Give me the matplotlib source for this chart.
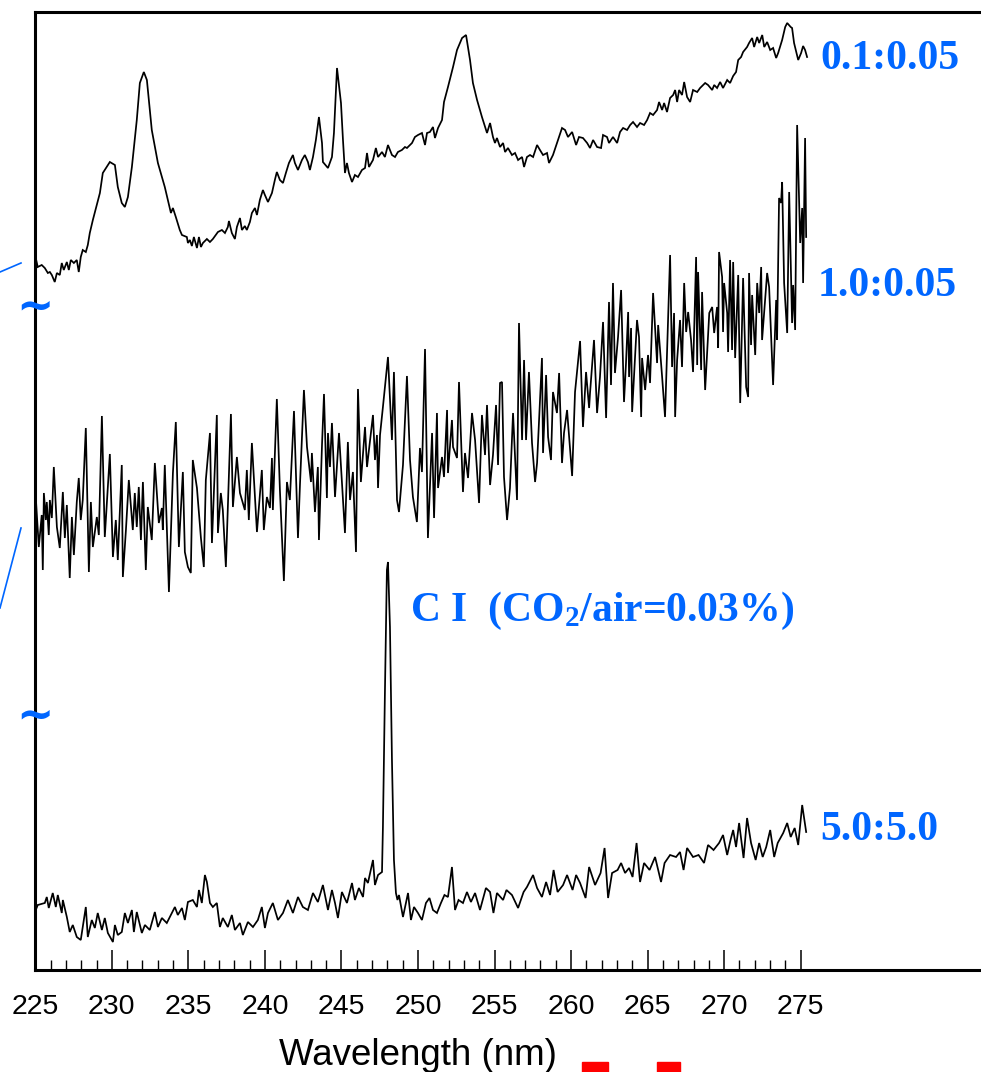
import matplotlib
matplotlib.use('Agg')
import matplotlib.pyplot as plt
from matplotlib.ticker import FixedLocator, NullFormatter
from matplotlib.transforms import blended_transform_factory
from matplotlib.lines import Line2D
from matplotlib.patches import Rectangle

plt.rcParams['font.family'] = ['Liberation Sans', 'DejaVu Sans']
plt.rcParams['mathtext.fontset'] = 'custom'
plt.rcParams['mathtext.rm'] = 'Liberation Serif:bold'
plt.rcParams['mathtext.it'] = 'Liberation Serif:bold:italic'
plt.rcParams['mathtext.bf'] = 'Liberation Serif:bold'

# ---------------- data (wavelength in nm, intensity in a.u., traces stacked) -------------
# top trace (0.1:0.05), read in segments
top_wl_a = [225.03, 225.16, 225.42, 225.62, 225.82, 225.95, 226.08, 226.27, 226.41, 226.60,
            226.73, 226.86, 227.06, 227.19, 227.32, 227.52, 227.71, 227.84, 227.97, 228.10,
            228.30, 228.43, 228.56]
top_int_a = [710, 701, 703, 700, 695, 696, 693, 686, 695, 693,
             705, 698, 706, 698, 708, 705, 708, 696, 711, 718,
             716, 723, 735]
top_wl_b = [228.76, 229.22, 229.41, 229.87, 230.20, 230.39, 230.65, 230.85, 231.05, 231.31,
            231.63, 231.83, 232.09, 232.29, 232.61, 233.01, 233.46]
top_int_b = [748, 775, 795, 806, 803, 781, 765, 761, 771, 801,
             848, 885, 896, 888, 838, 805, 781]
top_wl_c = [233.86, 233.99, 234.18, 234.44, 234.58, 234.90, 234.97, 235.10, 235.23, 235.36,
            235.56, 235.69, 235.82, 235.95, 236.21, 236.41, 236.60, 236.93, 237.19, 237.39,
            237.58, 237.65, 237.84, 238.04, 238.17, 238.37, 238.50, 238.69, 238.82, 239.02,
            239.15, 239.35, 239.48, 239.67, 239.87, 240.00, 240.20, 240.46, 240.65, 240.78,
            240.98, 241.18, 241.37, 241.57, 241.83, 241.96, 242.16, 242.42, 242.61, 242.81,
            242.94, 243.14, 243.33, 243.53, 243.73, 243.79, 244.12, 244.38, 244.51, 244.71,
            244.97, 245.10, 245.23, 245.36, 245.49, 245.69, 245.88, 246.08, 246.34, 246.54,
            246.67, 246.80, 247.06, 247.25, 247.39, 247.65, 247.84, 248.04, 248.30, 248.50,
            248.69, 248.95, 249.15, 249.28, 249.61, 249.80, 250.00, 250.26, 250.46, 250.59,
            250.78, 250.98, 251.11, 251.31, 251.57, 251.70]
top_int_c = [755, 760, 751, 738, 733, 731, 725, 728, 722, 731,
             720, 731, 721, 725, 729, 726, 729, 736, 738, 735,
             741, 747, 735, 729, 741, 750, 738, 742, 738, 746,
             755, 760, 753, 768, 778, 773, 766, 775, 788, 796,
             788, 785, 795, 805, 813, 805, 798, 808, 813, 806,
             798, 811, 828, 851, 825, 806, 800, 811, 835, 900,
             865, 828, 795, 805, 795, 786, 793, 791, 798, 800,
             815, 801, 808, 820, 811, 816, 811, 823, 813, 811,
             816, 818, 821, 820, 825, 831, 833, 835, 823, 835,
             836, 841, 830, 840, 848, 866]
top_wl_d = [251.96, 252.29, 252.55, 252.88, 253.14, 253.40, 253.59, 253.86, 254.18, 254.51]
top_int_d = [881, 901, 918, 930, 933, 908, 885, 868, 851, 835]
top_wl_e = [254.71, 254.90, 255.03, 255.16, 255.36, 255.56, 255.69, 255.88, 256.14, 256.34,
            256.54, 256.80, 256.93, 257.12, 257.32, 257.52, 257.78, 257.97, 258.17, 258.43,
            258.56, 258.82, 259.15, 259.41, 259.61, 259.80, 260.07, 260.33, 260.52, 260.78,
            261.05, 261.24, 261.44, 261.70, 261.96, 262.09, 262.35, 262.48, 262.74, 263.01,
            263.20, 263.40, 263.66, 263.86, 264.05, 264.31, 264.51, 264.77, 264.97, 265.16,
            265.36, 265.62, 265.75, 265.95, 266.08, 266.27, 266.47, 266.67, 266.80, 266.93,
            267.06, 267.25, 267.39, 267.58, 267.78, 267.97, 268.24, 268.43, 268.76, 268.95,
            269.22, 269.35, 269.54, 269.74, 269.93, 270.20, 270.39, 270.59, 270.78, 270.92,
            271.11, 271.24, 271.50, 271.63, 271.83, 271.96, 272.16, 272.29, 272.49, 272.62,
            272.81, 273.01, 273.20, 273.40, 273.53, 273.79, 273.99, 274.12, 274.35, 274.44,
            274.57, 274.71, 274.84, 275.03, 275.16, 275.29, 275.42]
top_int_e = [845, 831, 825, 830, 821, 825, 816, 820, 813, 815,
             808, 811, 801, 811, 813, 811, 823, 818, 813, 815,
             805, 813, 828, 840, 838, 831, 836, 823, 831, 830,
             825, 820, 828, 821, 820, 833, 831, 825, 831, 825,
             836, 840, 838, 843, 846, 841, 845, 843, 848, 855,
             853, 858, 866, 858, 865, 856, 870, 873, 878, 866,
             878, 873, 886, 871, 866, 878, 876, 880, 885, 883,
             878, 883, 880, 886, 880, 888, 885, 892, 896, 908,
             911, 916, 921, 925, 930, 921, 931, 925, 933, 921,
             926, 918, 920, 910, 915, 928, 941, 945, 941, 940,
             925, 916, 908, 915, 922, 918, 911]
top_wl = top_wl_a + top_wl_b + top_wl_c + top_wl_d + top_wl_e
top_int = top_int_a + top_int_b + top_int_c + top_int_d + top_int_e

# middle trace (1.0:0.05)
mid_wl = [225.03, 225.23, 225.42, 225.49, 225.56, 225.69, 225.75, 225.88, 225.95, 226.08,
          226.21, 226.41, 226.60, 226.80, 226.93, 227.06, 227.25, 227.39, 227.52, 227.71,
          227.84, 227.97, 228.10, 228.30, 228.50, 228.63, 228.76, 229.02, 229.15, 229.35,
          229.54, 229.87, 230.07, 230.26, 230.39, 230.65, 230.72, 230.92, 231.11, 231.37,
          231.50, 231.63, 231.76, 231.90, 232.03, 232.22, 232.35, 232.61, 232.81, 233.07,
          233.27, 233.33, 233.46, 233.73, 233.99, 234.18, 234.38, 234.64, 234.77, 234.97,
          235.16, 235.29, 235.56, 235.82, 236.01, 236.14, 236.41, 236.54, 236.86, 236.93,
          237.12, 237.25, 237.45, 237.78, 237.91, 238.17, 238.37, 238.69, 238.82, 238.95,
          239.15, 239.48, 239.80, 239.93, 240.13, 240.33, 240.46, 240.52, 240.78, 240.98,
          241.24, 241.44, 241.63, 241.90, 242.16, 242.29, 242.55, 242.75, 243.01, 243.07,
          243.27, 243.46, 243.53, 243.73, 243.86, 244.05, 244.12, 244.25, 244.38, 244.58,
          244.84, 245.23, 245.42, 245.56, 245.75, 245.95, 246.08, 246.27, 246.54, 246.67,
          247.06, 247.19, 247.32, 247.39, 247.52, 247.71, 248.04, 248.30, 248.43, 248.63,
          248.76, 249.02, 249.28, 249.48, 249.67, 249.93, 250.13, 250.26, 250.46, 250.65,
          250.92, 251.05, 251.24, 251.31, 251.57, 251.70, 251.90, 251.96, 252.22, 252.29,
          252.55, 252.68, 252.94, 253.07, 253.27, 253.53, 253.73, 253.99, 254.18, 254.38,
          254.51, 254.71, 254.90, 255.10, 255.23, 255.36, 255.49, 255.62, 255.82, 256.01,
          256.21, 256.47, 256.60, 256.80, 256.93, 257.06, 257.25, 257.45, 257.65, 257.78,
          258.10, 258.17, 258.37, 258.50, 258.69, 258.82, 259.08, 259.22, 259.41, 259.54,
          259.74, 260.07, 260.26, 260.39, 260.59, 260.78, 260.98, 261.18, 261.24, 261.50,
          261.70, 261.89, 262.09, 262.29, 262.48, 262.61, 262.74, 262.87, 263.07, 263.27,
          263.46, 263.59, 263.73, 263.79, 263.92, 263.99, 264.31, 264.44, 264.58, 264.64,
          264.84, 265.03, 265.16, 265.36, 265.62, 265.69, 265.95, 266.14, 266.47, 266.60,
          266.73, 266.80, 266.93, 267.12, 267.25, 267.39, 267.52, 267.65, 267.84, 267.97,
          268.17, 268.24, 268.30, 268.50, 268.56, 268.76, 269.03, 269.22, 269.35, 269.54,
          269.61, 269.67, 269.87, 269.93, 270.00, 270.20, 270.26, 270.39, 270.52, 270.59,
          270.72, 270.92, 271.05, 271.24, 271.44, 271.57, 271.63, 271.76, 271.83, 272.03,
          272.16, 272.29, 272.42, 272.48, 272.81, 272.94, 273.07, 273.20, 273.40, 273.46,
          273.59, 273.72, 273.79, 273.92, 274.12, 274.25, 274.44, 274.51, 274.64, 274.77,
          274.97, 275.10, 275.16, 275.29, 275.36]
mid_int = [471, 421, 453, 398, 475, 448, 466, 433, 468, 450,
           501, 441, 420, 476, 430, 463, 390, 451, 413, 466,
           490, 448, 468, 540, 396, 466, 421, 451, 433, 552,
           431, 514, 411, 448, 408, 503, 391, 438, 488, 438,
           475, 441, 481, 428, 486, 398, 461, 428, 505, 445,
           460, 438, 503, 376, 495, 546, 421, 496, 416, 401,
           395, 508, 480, 430, 401, 488, 535, 425, 553, 435,
           475, 458, 401, 554, 461, 511, 475, 458, 498, 448,
           525, 436, 498, 438, 471, 460, 510, 458, 569, 478,
           387, 486, 468, 557, 430, 483, 578, 521, 486, 515,
           456, 501, 428, 523, 574, 470, 535, 501, 545, 471,
           535, 435, 526, 468, 496, 416, 579, 486, 541, 501,
           553, 508, 533, 480, 533, 561, 611, 528, 596, 468,
           456, 503, 592, 508, 471, 446, 520, 496, 619, 430,
           535, 450, 555, 480, 511, 491, 558, 495, 548, 521,
           510, 586, 476, 515, 490, 555, 528, 465, 553, 513,
           563, 483, 513, 563, 503, 585, 586, 491, 448, 480,
           555, 468, 645, 528, 608, 528, 596, 525, 486, 505,
           610, 515, 593, 531, 508, 576, 555, 595, 505, 535,
           558, 492, 576, 596, 627, 541, 596, 560, 575, 628,
           555, 591, 646, 550, 666, 583, 685, 595, 631, 678,
           566, 605, 656, 591, 640, 556, 648, 631, 551, 610,
           578, 613, 585, 675, 605, 643, 591, 551, 713, 601,
           655, 551, 608, 648, 601, 685, 636, 656, 628, 596,
           711, 603, 696, 598, 676, 578, 655, 661, 635, 661,
           620, 716, 691, 636, 685, 655, 616, 708, 618, 706,
           610, 693, 565, 690, 581, 571, 695, 623, 673, 613,
           685, 655, 701, 628, 695, 681, 631, 583, 668, 628,
           770, 765, 786, 685, 635, 776, 645, 683, 638, 843,
           725, 760, 685, 830, 731]

# bottom trace (5.0:5.0) with the C I line
bot_wl = [225.03, 225.16, 225.62, 225.75, 225.88, 226.14, 226.34, 226.47, 226.73, 226.80,
          227.06, 227.25, 227.45, 227.71, 227.97, 228.10, 228.30, 228.43, 228.69, 228.89,
          229.08, 229.35, 229.54, 229.74, 230.07, 230.20, 230.39, 230.65, 230.85, 231.05,
          231.31, 231.44, 231.63, 231.96, 232.16, 232.48, 232.81, 233.01, 233.27, 233.59,
          233.79, 234.12, 234.31, 234.58, 234.77, 234.97, 235.29, 235.56, 235.69, 235.88,
          236.08, 236.21, 236.41, 236.60, 236.86, 237.06, 237.25, 237.58, 237.84, 238.04,
          238.37, 238.56, 238.89, 239.22, 239.54, 239.80, 240.00, 240.20, 240.52, 240.85,
          241.18, 241.50, 241.83, 242.16, 242.48, 242.81, 243.14, 243.46, 243.79, 244.12,
          244.38, 244.58, 244.77, 245.03, 245.36, 245.69, 245.88, 246.14, 246.41, 246.54,
          246.73, 247.06, 247.19, 247.39, 247.65, 247.71, 247.84, 247.97, 248.04, 248.17,
          248.30, 248.43, 248.56, 248.66, 248.76, 249.02, 249.35, 249.54, 249.74, 250.00,
          250.26, 250.52, 250.75, 250.98, 251.24, 251.50, 251.73, 251.96, 252.22, 252.42,
          252.65, 252.94, 253.20, 253.46, 253.73, 254.05, 254.44, 254.71, 254.93, 255.16,
          255.56, 255.78, 256.14, 256.54, 256.90, 257.12, 257.52, 257.78, 258.10, 258.37,
          258.63, 258.86, 259.12, 259.48, 259.74, 260.10, 260.33, 260.59, 260.95, 261.18,
          261.57, 261.93, 262.19, 262.42, 262.68, 263.04, 263.27, 263.53, 263.79, 264.02,
          264.28, 264.51, 264.77, 265.13, 265.49, 265.88, 266.11, 266.47, 266.86, 267.12,
          267.35, 267.58, 267.97, 268.33, 268.69, 268.95, 269.31, 269.67, 269.93, 270.20,
          270.42, 270.59, 270.78, 270.98, 271.27, 271.50, 271.76, 272.06, 272.29, 272.52,
          272.75, 273.01, 273.27, 273.50, 273.86, 274.12, 274.35, 274.61, 274.84, 275.10,
          275.36]
bot_int = [58, 63, 65, 71, 60, 75, 61, 73, 55, 68,
           51, 36, 43, 31, 28, 41, 61, 31, 48, 40,
           55, 38, 50, 35, 26, 43, 33, 36, 55, 45,
           58, 36, 56, 35, 43, 38, 56, 41, 50, 45,
           51, 61, 53, 60, 48, 66, 68, 61, 78, 65,
           93, 86, 65, 61, 65, 41, 50, 41, 53, 38,
           45, 33, 46, 41, 48, 61, 40, 55, 65, 48,
           55, 68, 55, 71, 61, 58, 75, 66, 83, 58,
           78, 65, 50, 76, 65, 85, 68, 80, 71, 90,
           85, 108, 83, 93, 96, 141, 275, 398, 406, 341,
           208, 108, 75, 68, 73, 51, 75, 48, 61, 55,
           48, 65, 70, 58, 55, 65, 73, 71, 101, 58,
           68, 65, 76, 66, 75, 58, 80, 76, 55, 75,
           68, 78, 73, 60, 76, 81, 93, 80, 71, 86,
           73, 98, 76, 83, 93, 78, 93, 85, 70, 101,
           83, 95, 120, 70, 95, 98, 105, 95, 100, 91,
           125, 86, 105, 98, 111, 86, 105, 113, 111, 116,
           98, 120, 111, 113, 105, 123, 118, 125, 133, 113,
           128, 138, 121, 145, 110, 150, 125, 108, 125, 111,
           121, 138, 111, 125, 135, 145, 131, 140, 123, 163,
           136]

major_ticks = [225, 230, 235, 240, 245, 250, 255, 260, 265, 270, 275]
minor_ticks = [w for w in range(226, 275) if w % 5 != 0]
tick_labels = [str(t) for t in major_ticks]

BLUE = '#0066ff'

# ---------------- figure ----------------
W, H = 981, 1072
fig = plt.figure(figsize=(W / 100, H / 100), dpi=100)
ax = fig.add_axes([35.3 / W, (H - 970) / H, (990 - 35.3) / W, (970 - 11.7) / H])

for wl, inten in [(top_wl, top_int), (mid_wl, mid_int), (bot_wl, bot_int)]:
    ax.plot(wl, inten, color='black', lw=1.25, solid_joinstyle='miter')

ax.set_xlim(225, 287.37)
ax.set_ylim(-2, 956.3)

ax.spines['right'].set_visible(False)
for s in ['left', 'top', 'bottom']:
    ax.spines[s].set_linewidth(2.2)

ax.set_yticks([])
ax.xaxis.set_major_locator(FixedLocator(major_ticks))
ax.xaxis.set_minor_locator(FixedLocator(minor_ticks))
ax.set_xticklabels(tick_labels)
ax.xaxis.set_minor_formatter(NullFormatter())
ax.tick_params(axis='x', which='major', direction='in', length=14.4, width=1.1,
               pad=17, labelsize=20.5, top=False)
ax.tick_params(axis='x', which='minor', direction='in', length=7.2, width=1.0, top=False)

# series labels
lab_kw = dict(color=BLUE, fontsize=30, fontweight='bold', family='Liberation Serif',
              ha='left', va='baseline', clip_on=False)
ax.text(276.27, 899, '0.1:0.05', **lab_kw)
ax.text(276.14, 672, '1.0:0.05', **lab_kw)
ax.text(276.27, 128, '5.0:5.0', **lab_kw)
ax.text(249.48, 347, 'C I  (CO$_{\\mathrm{2}}$/air=0.03%)', **lab_kw)

# axis-break tildes on the left spine
btrans = blended_transform_factory(ax.transAxes, ax.transData)
for yv in [661, 252]:
    ax.text(0, yv, '~', transform=btrans, ha='center', va='center', fontsize=32,
            fontweight='bold', color=BLUE, family='DejaVu Sans', clip_on=False)

# stray blue connector lines at the left edge
fig.add_artist(Line2D([0 / W, 21 / W], [(H - 272) / H, (H - 263) / H], color=BLUE, lw=1.2))
fig.add_artist(Line2D([0 / W, 21 / W], [(H - 608) / H, (H - 528) / H], color=BLUE, lw=1.2))

# x label, centred under the tick range
xtrans = blended_transform_factory(ax.transData, fig.transFigure)
ax.text(250, 7 / H, 'Wavelength (nm)', transform=xtrans, ha='center', va='baseline',
        fontsize=26.5, family='Liberation Sans', clip_on=False)

# partially visible logo blocks at the bottom edge
fig.patches.append(Rectangle((582 / W, 0), 26 / W, 10 / H, transform=fig.transFigure,
                             color='#ff0000', figure=fig))
fig.patches.append(Rectangle((657 / W, 0), 23 / W, 10 / H, transform=fig.transFigure,
                             color='#ff0000', figure=fig))

fig.savefig('out.png', dpi=100)
